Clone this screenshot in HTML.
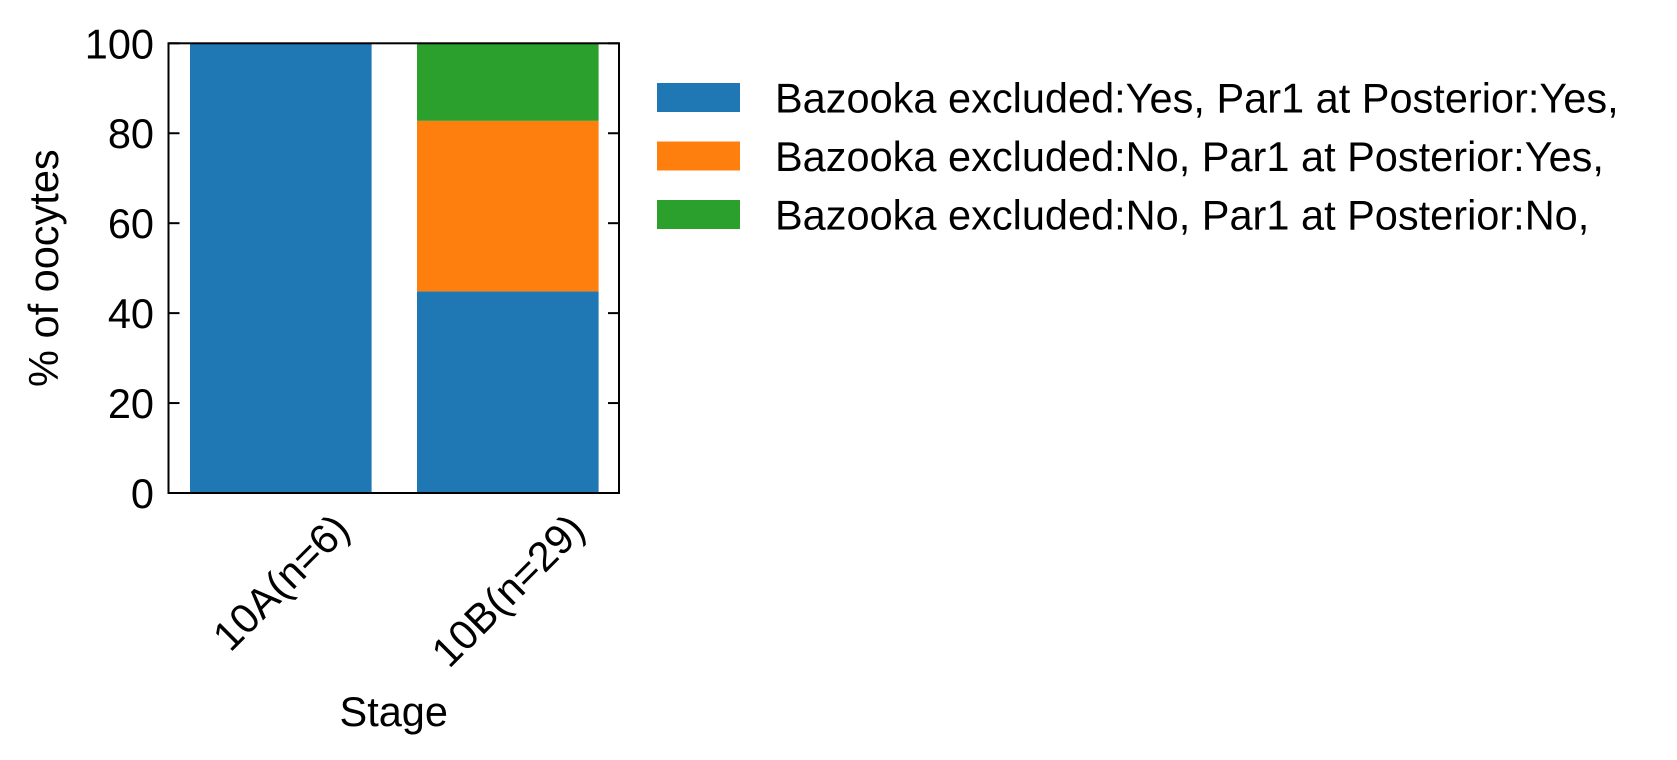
<!DOCTYPE html>
<html><head><meta charset="utf-8"><style>
html,body{margin:0;padding:0;background:#fff;}
svg{display:block;font-family:"Liberation Sans",Arial,sans-serif;}
</style></head><body>
<svg id="chart" width="1677" height="760" viewBox="0 0 1677 760" xmlns="http://www.w3.org/2000/svg">
<g id="bars"></g>
<g id="axes"></g>
<g id="legend"></g>
</svg>
<script>
const categories = ["10A(n=6)", "10B(n=29)"];
const seriesNames = ["Bazooka excluded:Yes, Par1 at Posterior:Yes,", "Bazooka excluded:No, Par1 at Posterior:Yes,", "Bazooka excluded:No, Par1 at Posterior:No,"];
const seriesYesYes = [100, 44.83];
const seriesNoYes = [0, 37.93];
const seriesNoNo = [0, 17.24];
const yTicks = [0, 20, 40, 60, 80, 100];

const NS = "http://www.w3.org/2000/svg";
const FS = 41.5;
const colors = ["#1f77b4", "#ff7f0e", "#2ca02c"];
const series = [seriesYesYes, seriesNoYes, seriesNoNo];
const L = 168.5, R = 619, T = 43.3, B = 493;
const unit = 227;
function xs(i) { return L + 21.5 + 90.8 + i * unit; }
function ys(v) { return B - (v / 100) * (B - T); }
const barW = 181.6;
function mk(tag, attrs, parent) {
  const e = document.createElementNS(NS, tag);
  for (const k in attrs) e.setAttribute(k, attrs[k]);
  parent.appendChild(e); return e;
}
const gb = document.getElementById("bars");
categories.forEach((c, i) => {
  let base = 0;
  series.forEach((s, j) => {
    const v = s[i];
    if (v > 0) {
      const r = mk("rect", {x: xs(i) - barW / 2, y: ys(base + v), width: barW, height: ys(base) - ys(base + v), fill: colors[j]}, gb);
      
      
    }
    base += v;
  });
});
const ga = document.getElementById("axes");
const frame = mk("rect", {x: L, y: T, width: R - L, height: B - T, fill: "none", stroke: "#000", "stroke-width": 2}, ga);


yTicks.forEach(t => {
  const y = ys(t);
  const t1 = mk("line", {x1: L, x2: L + 11, y1: y, y2: y, stroke: "#000", "stroke-width": 2}, ga);
  
  
  const t2 = mk("line", {x1: R, x2: R - 11, y1: y, y2: y, stroke: "#000", "stroke-width": 2}, ga);
  
  
  const lb = mk("text", {x: 154, y: y + 15, "text-anchor": "end", "font-size": FS, fill: "#000"}, ga);
  lb.textContent = t;
  
  
});
const a = 0.905 * FS, d = 0.212 * FS, s2 = Math.SQRT1_2;
categories.forEach((c, i) => {
  const cx = xs(i);
  const tx = mk("text", {x: 0, y: 0, "text-anchor": "middle", "font-size": FS, fill: "#000"}, ga);
  tx.textContent = c;
  
  
  const w = tx.getComputedTextLength();
  const cy = 505 + s2 * (w + a + d) / 2;
  const mx = cx + ((a - d) / 2) * s2, my = cy + ((a - d) / 2) * s2;
  tx.setAttribute("transform", "translate(" + mx + "," + my + ") rotate(-45)");
});
const yl = mk("text", {x: 0, y: 0, "text-anchor": "middle", "font-size": FS, fill: "#000", transform: "translate(58," + ((T + B) / 2) + ") rotate(-90)"}, ga);
yl.textContent = "% of oocytes";


const xl = mk("text", {x: (L + R) / 2, y: 726, "text-anchor": "middle", "font-size": FS, fill: "#000"}, ga);
xl.textContent = "Stage";


const gl = document.getElementById("legend");
seriesNames.forEach((n, j) => {
  const y0 = 83 + j * 58.5;
  const p = mk("rect", {x: 657, y: y0, width: 83, height: 29, fill: colors[j]}, gl);
  
  
  const t = mk("text", {x: 775, y: y0 + 29.5, "font-size": FS, fill: "#000"}, gl);
  t.textContent = n;
  
  
});
</script>
</body></html>
